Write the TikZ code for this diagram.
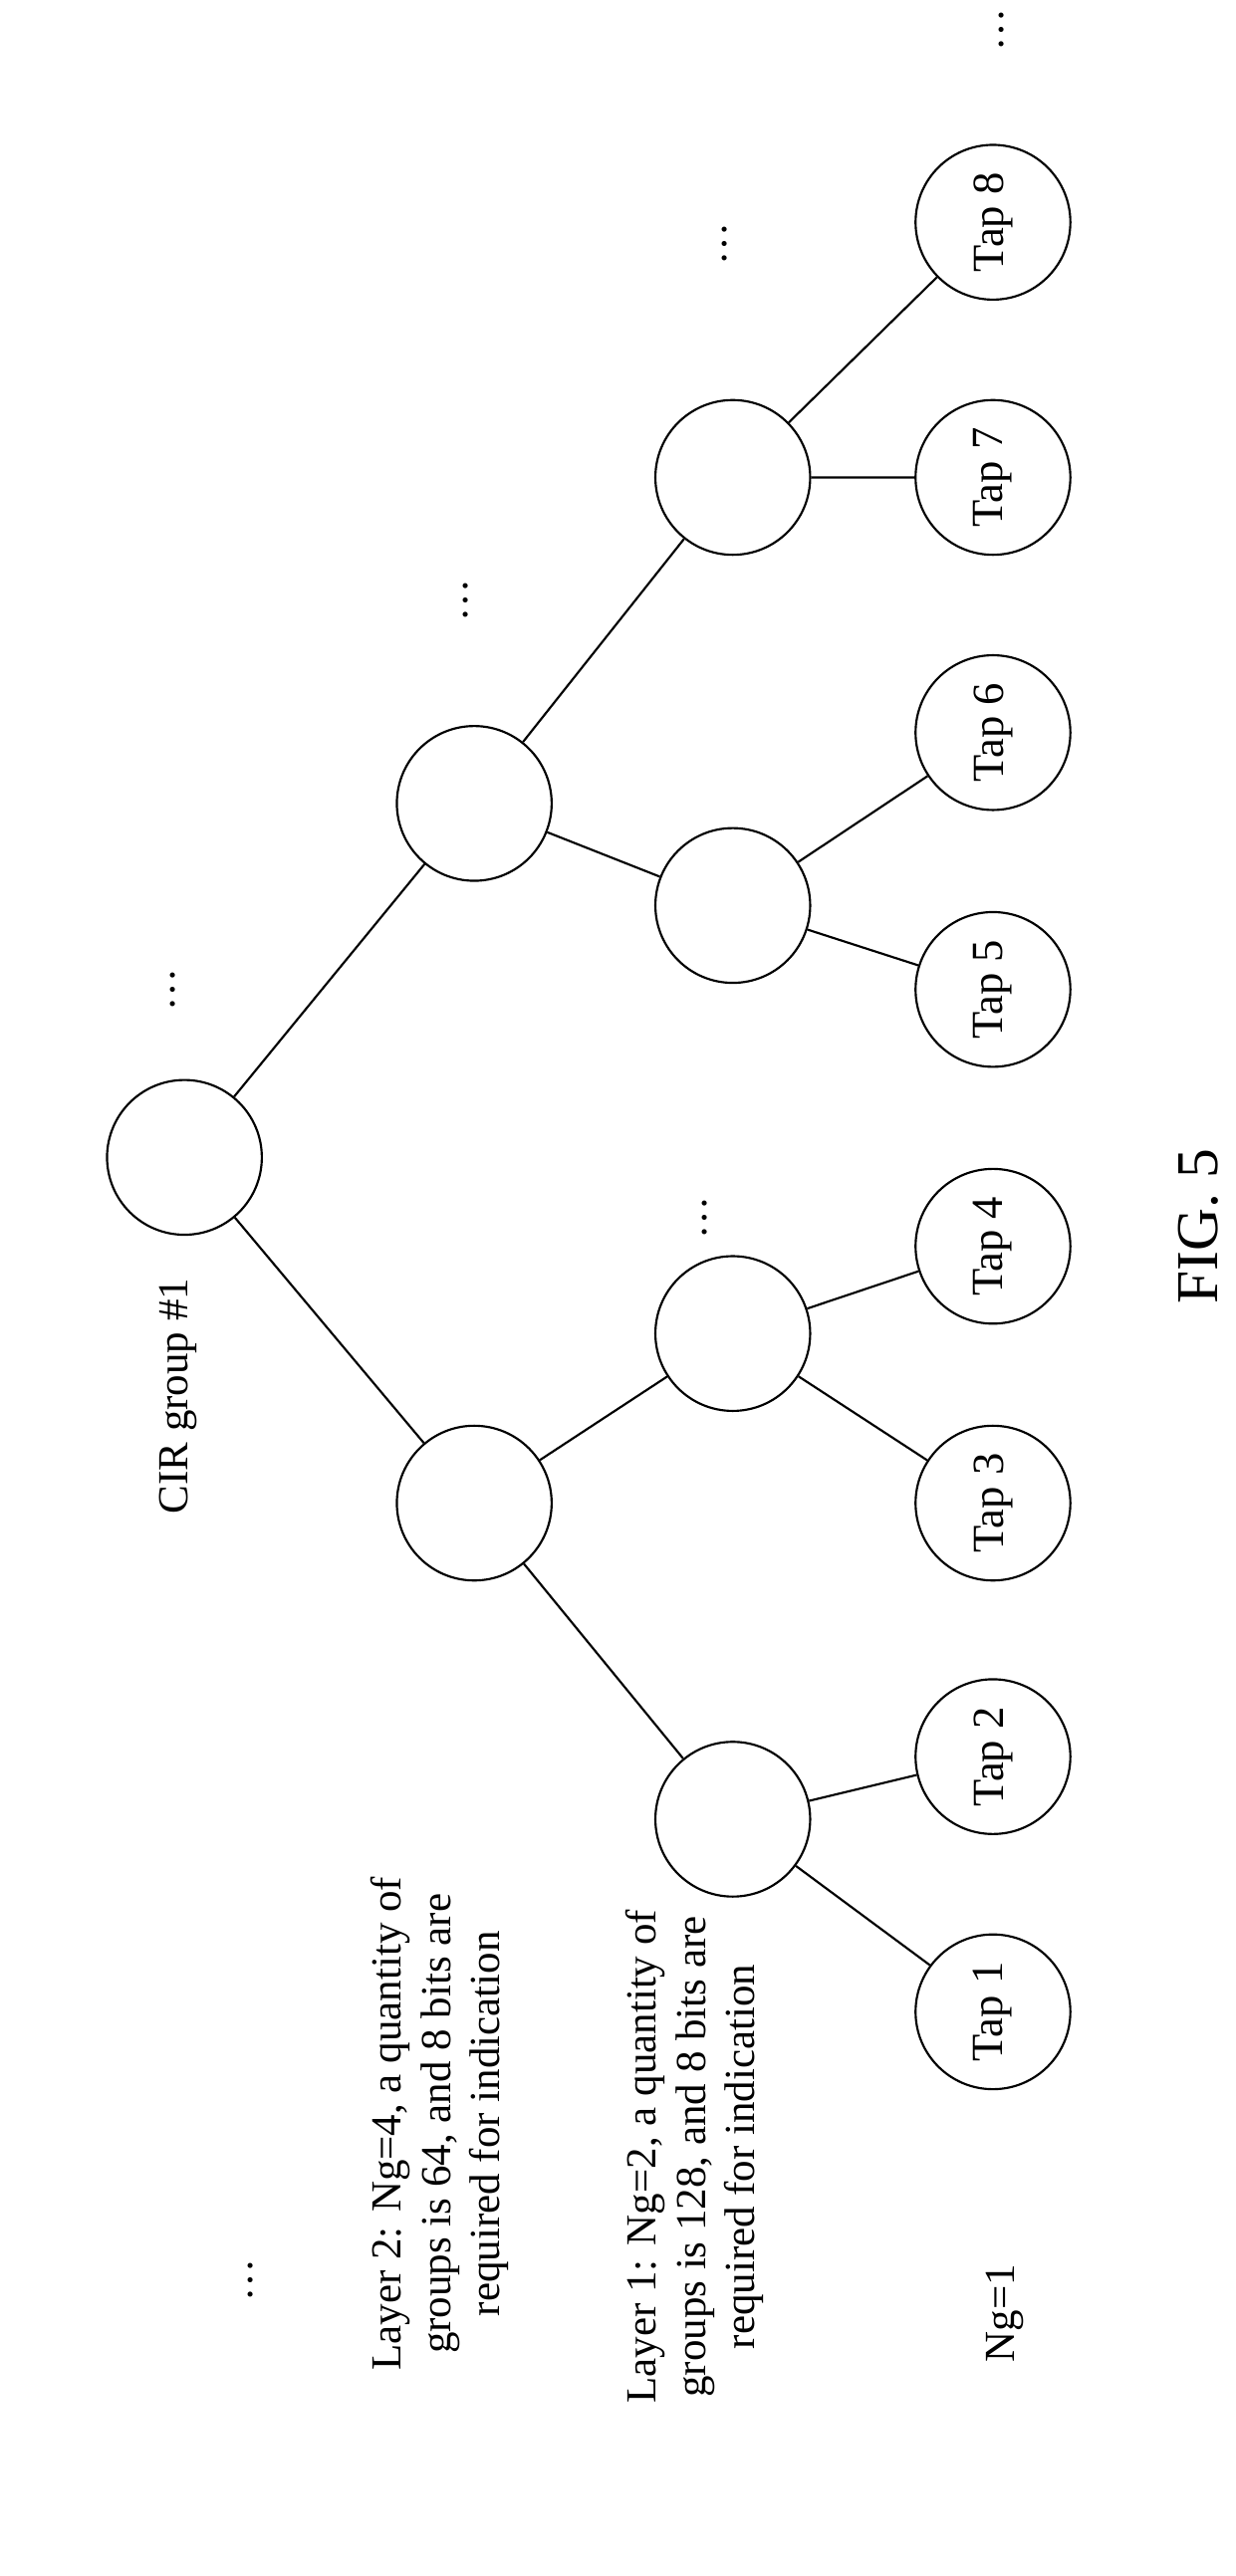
\documentclass[tikz,border=0pt]{standalone}
\usepackage{fontspec}
\setmainfont{Liberation Serif}
\begin{document}
\begin{tikzpicture}[x=1pt,y=-1pt,
  c/.style={circle,draw,line width=1.3pt,minimum size=94pt,inner sep=0pt,font=\fontsize{27}{30}\selectfont,rotate=90},
  e/.style={line width=1.3pt},
  t/.style={rotate=90,font=\fontsize{26}{30}\selectfont,align=center}]
\useasboundingbox (0,0) rectangle (750,1564.7);
\node[c] (r) at (112,703) {};
\node[c] (a) at (288,913) {};
\node[c] (b) at (288,488) {};
\node[c] (a1) at (445,1105) {};
\node[c] (a2) at (445,810) {};
\node[c] (b1) at (445,550) {};
\node[c] (b2) at (445,290) {};
\node[c] (t1) at (603,1222) {Tap 1};
\node[c] (t2) at (603,1067) {Tap 2};
\node[c] (t3) at (603,913) {Tap 3};
\node[c] (t4) at (603,757) {Tap 4};
\node[c] (t5) at (603,601) {Tap 5};
\node[c] (t6) at (603,445) {Tap 6};
\node[c] (t7) at (603,290) {Tap 7};
\node[c] (t8) at (603,135) {Tap 8};
\draw[e] (r)--(a) (r)--(b) (a)--(a1) (a)--(a2) (b)--(b1) (b)--(b2)
  (a1)--(t1) (a1)--(t2) (a2)--(t3) (a2)--(t4) (b1)--(t5) (b1)--(t6) (b2)--(t7) (b2)--(t8);
\node[t] (cir) at (108,848) {CIR group \#1};
\node[t] (d1) at (105,601) {\ldots};
\node[t] (d2) at (428,740) {\ldots};
\node[t] (d3) at (283,365) {\ldots};
\node[t] (d4) at (440,148) {\ldots};
\node[t] (d5) at (608,18) {\ldots};
\node[t] (d6) at (152,1385) {\ldots};
\node[t] (l2) at (267,1290) {Layer 2: Ng=4, a quantity of\\groups is 64, and 8 bits are\\required for indication};
\node[t] (l1) at (422,1310) {Layer 1: Ng=2, a quantity of\\groups is 128, and 8 bits are\\required for indication};
\node[t] (ng) at (610,1405) {Ng=1};
\node[t,font=\fontsize{36}{40}\selectfont] (fig) at (728,745) {FIG. 5};
\end{tikzpicture}
\end{document}
